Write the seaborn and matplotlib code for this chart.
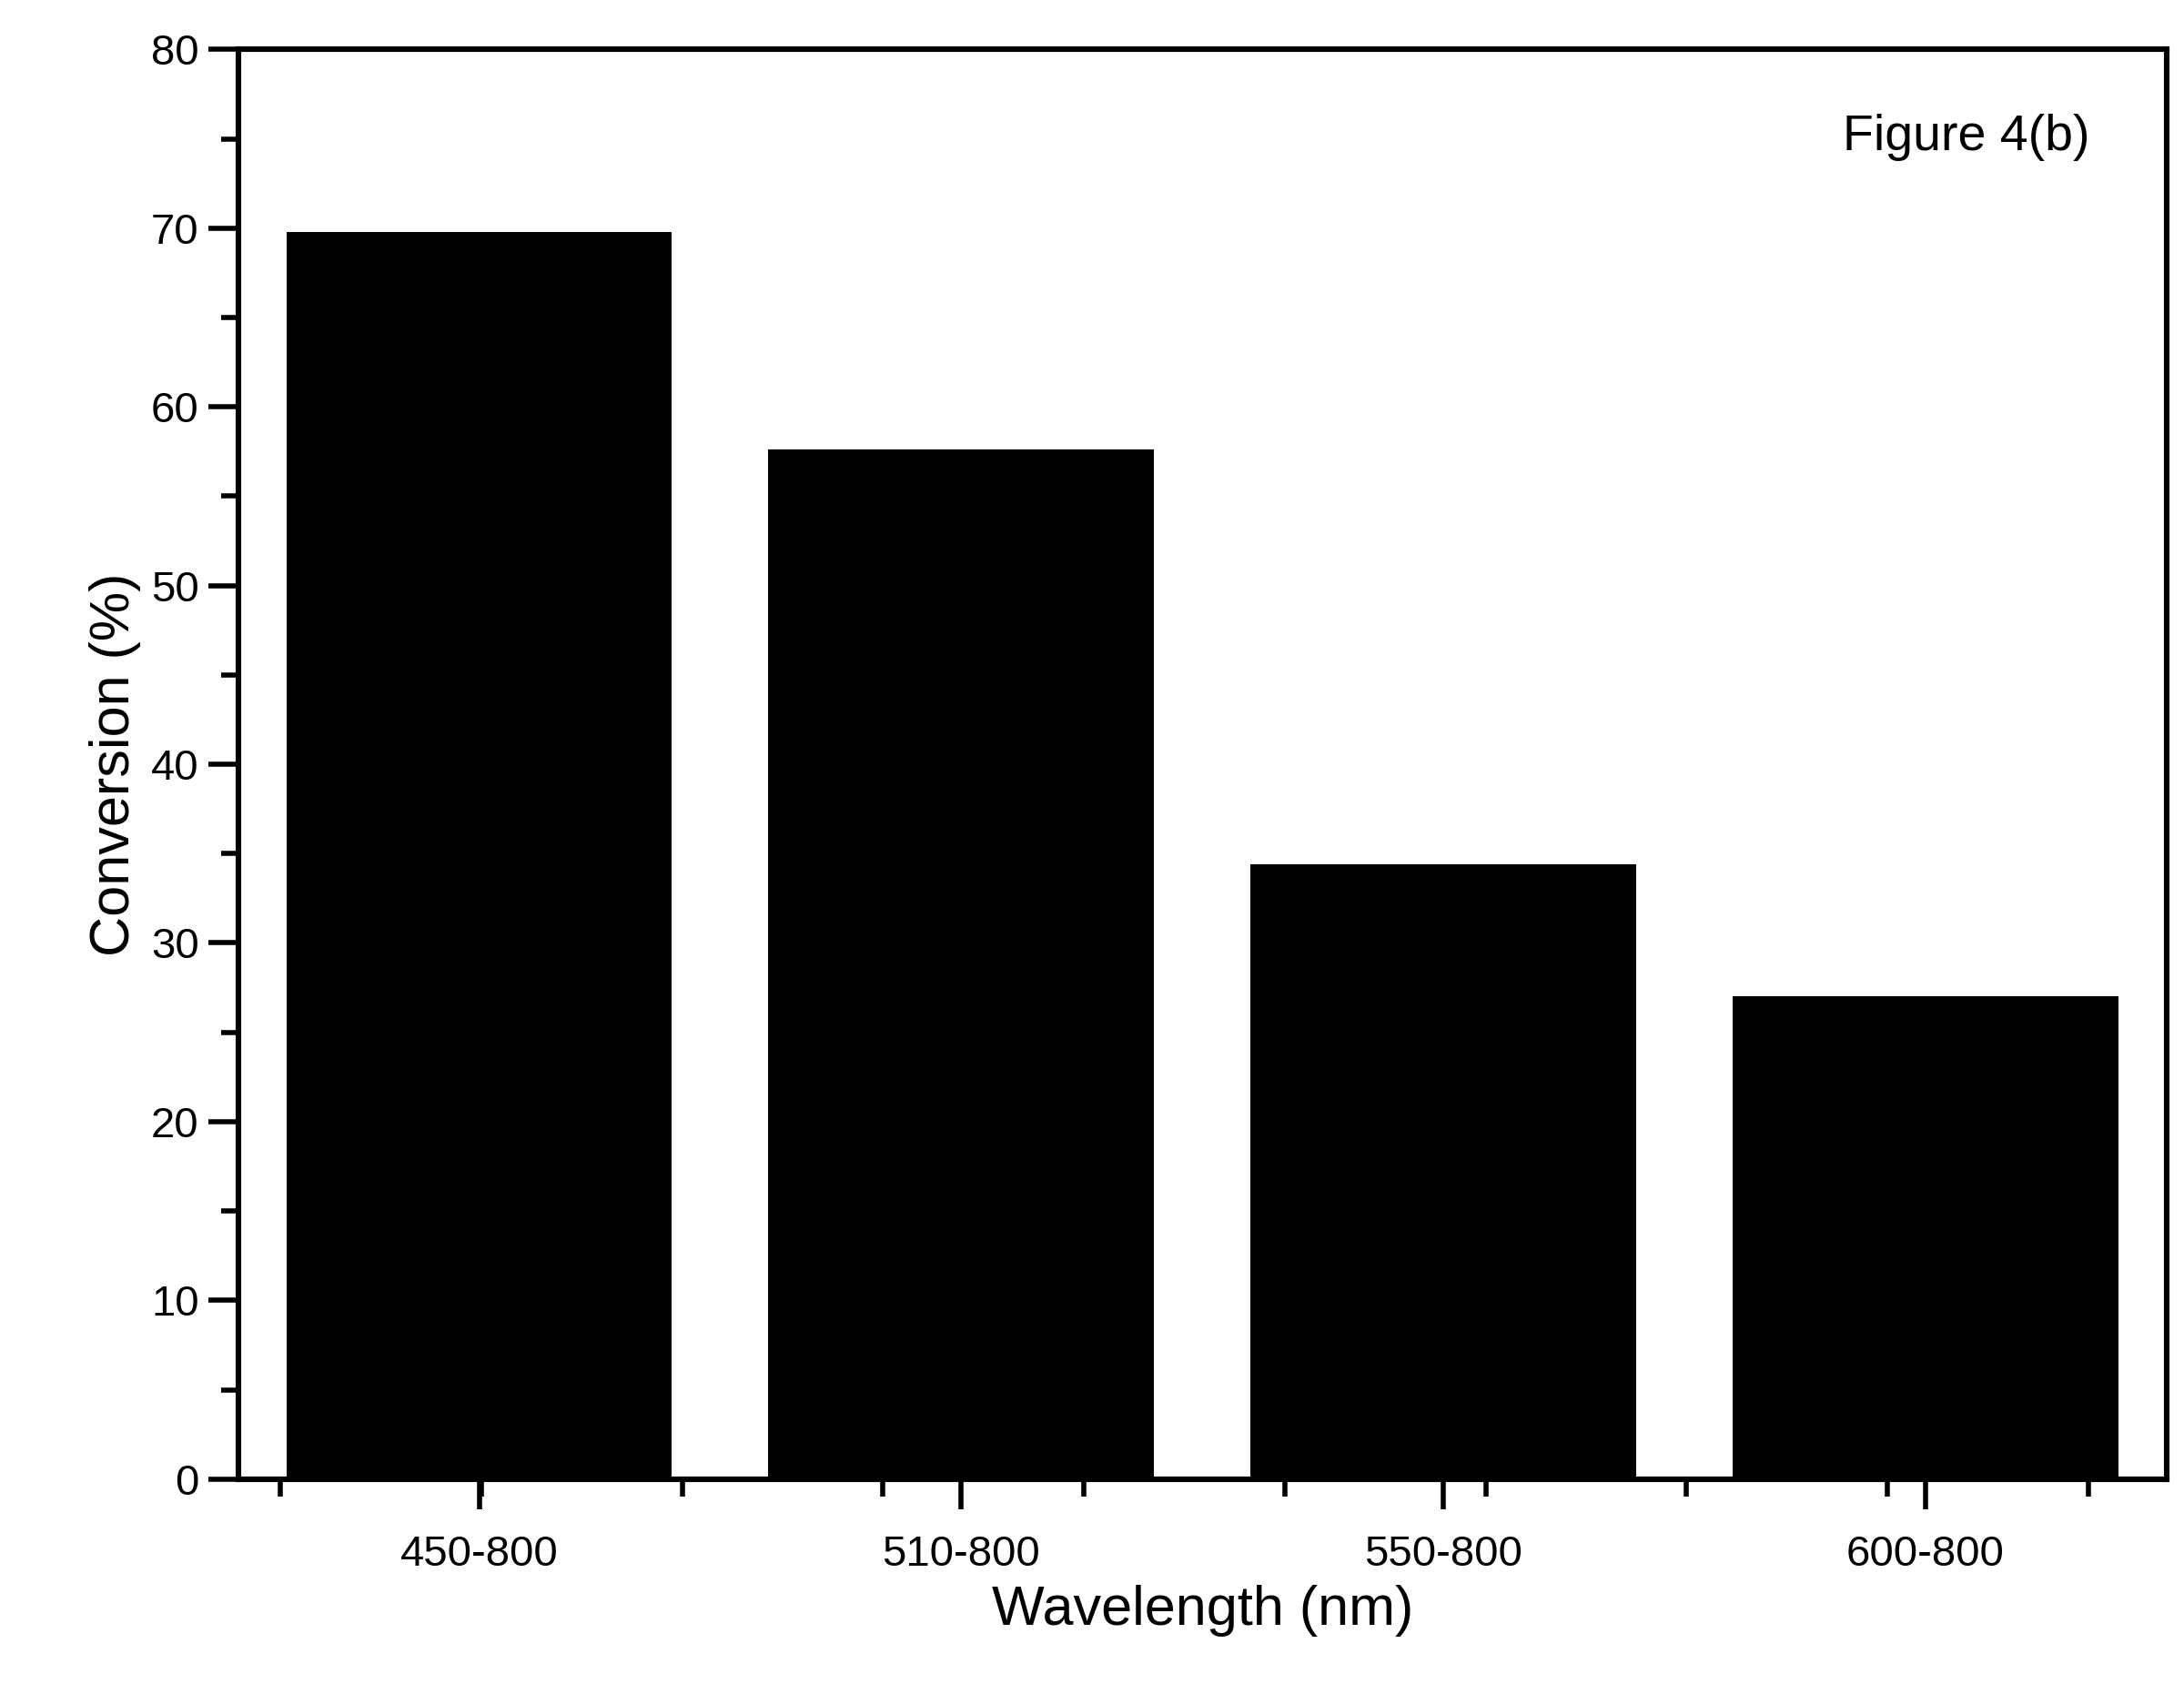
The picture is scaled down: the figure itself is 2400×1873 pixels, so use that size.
import matplotlib
matplotlib.use("Agg")
import matplotlib.pyplot as plt
import seaborn as sns
import numpy as np
import pandas as pd

categories = ["450-800", "510-800", "550-800", "600-800"]
conversion = [69.8, 57.6, 34.4, 27.0]

plt.rcParams["font.family"] = "Liberation Sans"
fig = plt.figure(figsize=(12, 9.365), dpi=200)
ax = fig.add_axes([0.109, 0.132, 0.883, 0.839])
df = pd.DataFrame({"cat": categories, "val": conversion})
sns.barplot(data=df, x="cat", y="val", color="black", width=0.8, ax=ax, saturation=1)
ax.set_xlim(-0.5, 3.5)
ax.set_ylim(0, 80)
ax.set_yticks(np.arange(0, 81, 10))
ax.set_yticks(np.arange(0, 81, 5), minor=True)
ax.set_xticks(np.arange(-0.412, 3.5, 0.4166), minor=True)
for s in ax.spines.values():
    s.set_linewidth(2.2)
ax.tick_params(axis="both", which="major", direction="out", length=12, width=2, labelsize=17, top=False, right=False)
ax.tick_params(axis="both", which="minor", direction="out", length=7, width=2, top=False, right=False)
ax.tick_params(axis="x", which="major", pad=10)
ax.set_xlabel("Wavelength (nm)", fontsize=22)
ax.set_ylabel("Conversion (%)", fontsize=22)
ax.text(0.96, 0.955, "Figure 4(b)", transform=ax.transAxes, ha="right", va="top", fontsize=20)
fig.savefig("out.png")
